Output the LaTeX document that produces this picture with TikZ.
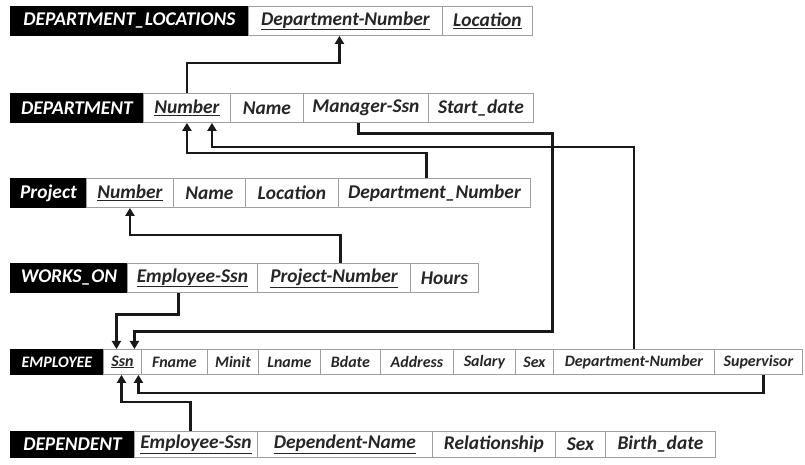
\documentclass[tikz,border=0pt]{standalone}
\usepackage{fontspec}
\setmainfont{Carlito}
\usetikzlibrary{arrows.meta}
\newcommand\rowfnt{\fontsize{19.5}{21}\selectfont\bfseries\itshape}
\newcommand\empfnt{\fontsize{16}{18}\selectfont\bfseries\itshape}
\begin{document}
\begin{tikzpicture}[x=1bp,y=-1bp,
  cell/.style={draw=gray!75, line width=0.9bp, anchor=north west, inner sep=0pt,
    minimum height=29bp, font=\rowfnt, text=black!85},
  hdr/.style={cell, fill=black, draw=black, text=white},
  cw/.style={minimum width=#1bp},
  ecell/.style={cell, minimum height=25bp, font=\empfnt},
  ehdr/.style={ecell, fill=black, draw=black, text=white},
  conn/.style={line width=2.8bp, draw=black!90, -{Triangle[width=9bp,length=8bp]}}]
\fill[white] (0,0) rectangle (805,465);
\useasboundingbox (0,0) rectangle (805,465);
% DEPARTMENT_LOCATIONS
\node[hdr, cw=238] (dlH) at (10,6) {DEPARTMENT\_LOCATIONS};
\node[cell, cw=194] (dlDN) at (248,6) {\underline{Department-Number}};
\node[cell, cw=90] (dlLoc) at (442,6) {\underline{Location}};
% DEPARTMENT
\node[hdr, cw=133] (dH) at (10,93) {DEPARTMENT};
\node[cell, cw=87] (dNum) at (143,93) {\underline{Number}};
\node[cell, cw=73] (dName) at (230,93) {Name};
\node[cell, cw=125] (dMgr) at (303,93) {Manager-Ssn};
\node[cell, cw=105] (dStart) at (428,93) {Start\_date};
% Project
\node[hdr, cw=76] (pH) at (10,178) {Project};
\node[cell, cw=87] (pNum) at (86,178) {\underline{Number}};
\node[cell, cw=72] (pName) at (173,178) {Name};
\node[cell, cw=93] (pLoc) at (245,178) {Location};
\node[cell, cw=192] (pDN) at (338,178) {Department\_Number};
% WORKS_ON
\node[hdr, cw=117] (wH) at (10,263) {WORKS\_ON};
\node[cell, cw=130] (wES) at (127,263) {\underline{Employee-Ssn}};
\node[cell, cw=153] (wPN) at (257,263) {\underline{Project-Number}};
\node[cell, cw=68] (wHours) at (410,263) {Hours};
% EMPLOYEE
\node[ehdr, cw=93] (eH) at (10,349) {EMPLOYEE};
\node[ecell, cw=38] (eSsn) at (103,349) {\underline{Ssn}};
\node[ecell, cw=66] (eFn) at (141,349) {Fname};
\node[ecell, cw=51] (eMi) at (207,349) {Minit};
\node[ecell, cw=62] (eLn) at (258,349) {Lname};
\node[ecell, cw=60] (eBd) at (320,349) {Bdate};
\node[ecell, cw=73] (eAd) at (380,349) {Address};
\node[ecell, cw=62] (eSal) at (453,349) {Salary};
\node[ecell, cw=38] (eSex) at (515,349) {Sex};
\node[ecell, cw=161] (eDN) at (553,349) {Department-Number};
\node[ecell, cw=88] (eSup) at (714,349) {Supervisor};
% DEPENDENT
\node[hdr, cw=124, minimum height=26bp] (depH) at (10,431) {DEPENDENT};
\node[cell, cw=123, minimum height=26bp] (depES) at (134,431) {\underline{Employee-Ssn}};
\node[cell, cw=175, minimum height=26bp] (depDN) at (257,431) {\underline{Dependent-Name}};
\node[cell, cw=123, minimum height=26bp] (depRel) at (432,431) {Relationship};
\node[cell, cw=50, minimum height=26bp] (depSex) at (555,431) {Sex};
\node[cell, cw=110, minimum height=26bp] (depBd) at (605,431) {Birth\_date};
% connectors
\draw[conn] (dNum.north) -- ++(0,-30) -| ([xshift=-6bp]dlDN.south);
\draw[conn] ([xshift=-8bp]pDN.north) -- ++(0,-25) -| (dNum.south);
\draw[conn] (eDN.north) -- ++(0,-202) -| ([xshift=25bp]dNum.south);
\draw[conn] ([xshift=-7.5bp]dMgr.south) -- ++(0,11) -- ++(194,0) -- ++(0,198) -| ([xshift=12bp]eSsn.north);
\draw[conn] ([xshift=6.5bp]wPN.north) -- ++(0,-28) -| (pNum.south);
\draw[conn] ([xshift=-14bp]wES.south) -- ++(0,22) -| ([xshift=-6bp]eSsn.north);
\draw[conn] ([xshift=5bp]eSup.south) -- ++(0,18) -| ([xshift=16bp]eSsn.south);
\draw[conn] ([xshift=-5.5bp]depES.north) -- ++(0,-29) -| ([xshift=-1bp]eSsn.south);
\end{tikzpicture}
\end{document}
